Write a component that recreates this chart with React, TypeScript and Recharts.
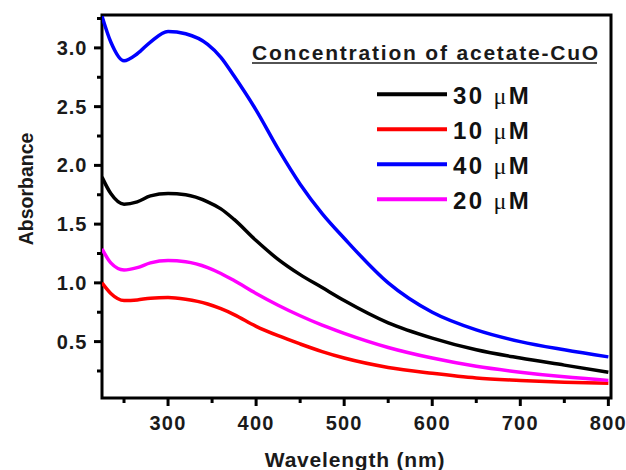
import React from 'react';
import { LineChart, Line, XAxis, YAxis, ReferenceArea, Legend } from 'recharts';

const wavelengths = [225, 235, 250, 265, 280, 300, 320, 345, 360, 375, 400, 425, 450, 475, 500, 550, 600, 650, 700, 750, 800];
const conc30 = [1.90, 1.76, 1.67, 1.69, 1.74, 1.76, 1.75, 1.69, 1.63, 1.54, 1.36, 1.20, 1.07, 0.96, 0.85, 0.66, 0.53, 0.43, 0.36, 0.30, 0.24];
const conc10 = [1.00, 0.91, 0.85, 0.855, 0.87, 0.875, 0.86, 0.82, 0.78, 0.73, 0.63, 0.55, 0.48, 0.415, 0.36, 0.28, 0.23, 0.19, 0.17, 0.155, 0.145];
const conc40 = [3.27, 3.05, 2.89, 2.95, 3.05, 3.14, 3.12, 3.03, 2.92, 2.76, 2.47, 2.14, 1.84, 1.59, 1.38, 1.00, 0.75, 0.60, 0.50, 0.43, 0.37];
const conc20 = [1.29, 1.17, 1.11, 1.13, 1.17, 1.19, 1.18, 1.13, 1.08, 1.02, 0.91, 0.81, 0.72, 0.64, 0.57, 0.45, 0.36, 0.29, 0.24, 0.20, 0.17];

const xTicks = [250, 300, 350, 400, 450, 500, 550, 600, 650, 700, 750, 800];
const yTicks = [0.25, 0.5, 0.75, 1.0, 1.25, 1.5, 1.75, 2.0, 2.25, 2.5, 2.75, 3.0, 3.25];

const seriesNames = ['30 \u03bcM', '10 \u03bcM', '40 \u03bcM', '20 \u03bcM'];
const legendTitle = 'Concentration of acetate-CuO';
const xTitle = 'Wavelength (nm)';
const yTitle = 'Absorbance';

const data = wavelengths.map((w, i) => ({
  w,
  c30: conc30[i],
  c10: conc10[i],
  c40: conc40[i],
  c20: conc20[i],
}));

const FONT = '"Liberation Sans", Arial, sans-serif';

const XTick = (props: any) => {
  const { x, y, payload } = props;
  const major = payload.value % 100 === 0;
  return (
    <g>
      <line x1={x} y1={y} x2={x} y2={y + (major ? 8 : 5)} stroke="#000" strokeWidth={3} />
      {major && (
        <text x={x} y={y + 32} textAnchor="middle" fontFamily={FONT} fontWeight="bold" fontSize={20} letterSpacing={1.2} fill="#1a1a1a">
          {payload.value}
        </text>
      )}
    </g>
  );
};

const YTick = (props: any) => {
  const { x, y, payload } = props;
  const major = Math.abs(payload.value * 2 - Math.round(payload.value * 2)) < 1e-9;
  return (
    <g>
      <line x1={x} y1={y} x2={x - (major ? 8 : 5)} y2={y} stroke="#000" strokeWidth={3} />
      {major && (
        <text x={x - 14.5} y={y} dy="0.35em" textAnchor="end" fontFamily={FONT} fontWeight="bold" fontSize={20} letterSpacing={1} fill="#1a1a1a">
          {payload.value.toFixed(1)}
        </text>
      )}
    </g>
  );
};

const LegendContent = (props: any) => {
  const payload = [...(props.payload || [])].sort(
    (a: any, b: any) => seriesNames.indexOf(a.value) - seriesNames.indexOf(b.value)
  );
  return (
    <svg width={380} height={190} style={{ display: 'block', overflow: 'visible' }}>
      <text x={12} y={29.5} fontFamily={FONT} fontWeight="bold" fontSize={21} letterSpacing={1.8} fill="#1a1a1a">
        {legendTitle}
      </text>
      <line x1={12} y1={33} x2={357} y2={33} stroke="#1a1a1a" strokeWidth={1.6} />
      {payload.map((p: any, i: number) => {
        const ly = 64.3 + i * 35;
        const [num, unit] = String(p.value).split(' ');
        return (
          <g key={i}>
            <line x1={137} y1={ly} x2={207} y2={ly} stroke={p.color} strokeWidth={4} />
            <text x={213} y={ly + 9.5} fontFamily={FONT} fontWeight="bold" fontSize={24} letterSpacing={2.4} fill="#111">
              {num + ' '}
              <tspan fontFamily='"Liberation Serif", serif' fontWeight="normal">{unit.charAt(0)}</tspan>
              <tspan>{unit.slice(1)}</tspan>
            </text>
          </g>
        );
      })}
    </svg>
  );
};

export default function App() {
  return (
    <div style={{ position: 'absolute', left: 0, top: 0, width: 626, height: 470, background: '#fff' }}>
      <LineChart width={626} height={470} data={data} margin={{ top: 15, right: 15, bottom: 0, left: 0 }}>
        <XAxis
          dataKey="w"
          type="number"
          domain={[225, 803]}
          ticks={xTicks}
          tick={<XTick />}
          tickLine={false}
          axisLine={false}
          tickSize={0}
          tickMargin={0}
          height={72}
          allowDataOverflow
          interval={0}
        />
        <YAxis
          type="number"
          domain={[0.02, 3.28]}
          ticks={yTicks}
          tick={<YTick />}
          tickLine={false}
          axisLine={false}
          tickSize={0}
          tickMargin={0}
          width={102}
          allowDataOverflow
          interval={0}
        />
        <Line type="monotone" dataKey="c30" name={seriesNames[0]} stroke="#000000" strokeWidth={3.5} dot={false} isAnimationActive={false} />
        <Line type="monotone" dataKey="c10" name={seriesNames[1]} stroke="#ff0000" strokeWidth={3.5} dot={false} isAnimationActive={false} />
        <Line type="monotone" dataKey="c40" name={seriesNames[2]} stroke="#0000ff" strokeWidth={3.5} dot={false} isAnimationActive={false} />
        <Line type="monotone" dataKey="c20" name={seriesNames[3]} stroke="#ff00ff" strokeWidth={3.5} dot={false} isAnimationActive={false} />
        <ReferenceArea x1={225} x2={803} y1={0.02} y2={3.28} fill="none" fillOpacity={0} stroke="#000" strokeWidth={3} ifOverflow="visible" />
        <Legend
          layout="vertical"
          align="center"
          verticalAlign="middle"
          content={<LegendContent />}
          wrapperStyle={{ position: 'absolute', left: 240, top: 30, width: 380, height: 190 }}
        />
        <text x={355} y={466.5} textAnchor="middle" fontFamily={FONT} fontWeight="bold" fontSize={21} letterSpacing={0.8} fill="#1a1a1a">
          {xTitle}
        </text>
        <text x={33} y={189} transform="rotate(-90 33 189)" textAnchor="middle" fontFamily={FONT} fontWeight="bold" fontSize={19.5} fill="#1a1a1a">
          {yTitle}
        </text>
      </LineChart>
    </div>
  );
}
